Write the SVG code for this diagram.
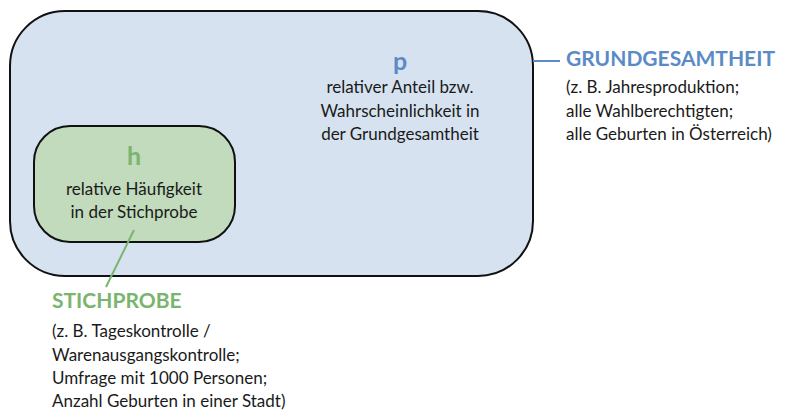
<svg xmlns="http://www.w3.org/2000/svg" width="800" height="419" viewBox="0 0 800 419">
<style>
text{font-family:Lato,"Open Sans",sans-serif;fill:#1a1a1a;font-size:17px}
.c{text-anchor:middle}
.big{font-weight:bold;font-size:25px}
.b{fill:#5b8bc6}
.g{fill:#7ab56f}
.t{font-weight:bold;font-size:21px}
</style>
<rect width="800" height="419" fill="#fff"/>
<g id="grundgesamtheit">
<rect x="10" y="11" width="523" height="265" rx="55" fill="#d6e2f0" stroke="#111" stroke-width="2"/>
<text class="c big b" x="400" y="70">p</text>
<text class="c" x="400" y="93">relativer Anteil bzw.</text>
<text class="c" x="400" y="117">Wahrscheinlichkeit in</text>
<text class="c" x="400" y="140">der Grundgesamtheit</text>
</g>
<g id="stichprobe">
<rect x="34" y="126" width="201" height="116" rx="36" fill="#c1dbbc" stroke="#111" stroke-width="2"/>
<text class="c big g" x="134" y="165">h</text>
<text class="c" x="134" y="195">relative Häufigkeit</text>
<text class="c" x="134" y="218">in der Stichprobe</text>
</g>
<g id="connectors">
<line x1="533" y1="61" x2="560" y2="61" stroke="#5b8bc6" stroke-width="2"/>
<line x1="134" y1="230" x2="106" y2="287" stroke="#7ab56f" stroke-width="2"/>
</g>
<g id="label-grund">
<text class="t b" x="566" y="66">GRUNDGESAMTHEIT</text>
<text x="566" y="93">(z. B. Jahresproduktion;</text>
<text x="566" y="117">alle Wahlberechtigten;</text>
<text x="566" y="140">alle Geburten in Österreich)</text>
</g>
<g id="label-stich">
<text class="t g" x="52" y="308">STICHPROBE</text>
<text x="52" y="337">(z. B. Tageskontrolle /</text>
<text x="52" y="361">Warenausgangskontrolle;</text>
<text x="52" y="384">Umfrage mit 1000 Personen;</text>
<text x="52" y="407">Anzahl Geburten in einer Stadt)</text>
</g>
</svg>
